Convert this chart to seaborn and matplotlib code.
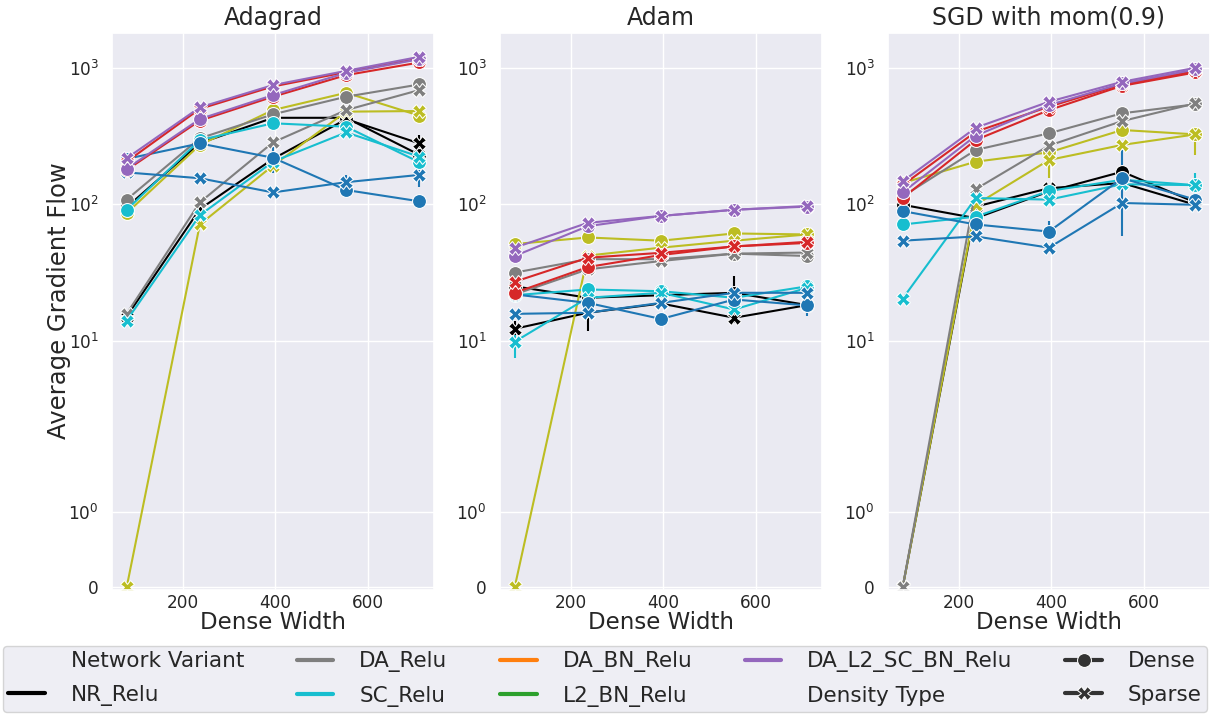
import numpy as np
import pandas as pd
import matplotlib
matplotlib.use("Agg")
import matplotlib.pyplot as plt
import seaborn as sns

# ---------------- data ----------------
WIDTHS = [79, 237, 395, 553, 711]
OPTIMIZERS = ["Adagrad", "Adam", "SGD with mom(0.9)"]

# drawing order (later on top)
VARIANT_ORDER = ["NR_Relu", "DA_SC_Relu", "DA_Relu", "SC_Relu", "L2_Relu",
                 "DA_BN_Relu", "L2_BN_Relu", "DA_SC_BN_Relu", "DA_L2_SC_BN_Relu"]
PALETTE = {
    "NR_Relu": "black", "DA_Relu": "tab:gray", "SC_Relu": "tab:cyan",
    "DA_BN_Relu": "tab:orange", "L2_BN_Relu": "tab:green", "DA_L2_SC_BN_Relu": "tab:purple",
    "DA_SC_Relu": "tab:olive", "L2_Relu": "tab:blue", "DA_SC_BN_Relu": "tab:red",
}

ADAGRAD_DENSE = {
    "NR_Relu":          [95, 280, 430, 430, 230],
    "DA_Relu":          [108, 304, 456, 614, 755],
    "DA_SC_Relu":       [86, 272, 490, 656, 446],
    "SC_Relu":          [91, 295, 392, 370, 203],
    "L2_Relu":          [215, 279, 219, 127, 105],
    "DA_SC_BN_Relu":    [178, 410, 614, 884, 1094],
    "DA_L2_SC_BN_Relu": [182, 421, 631, 919, 1157],
}
ADAGRAD_SPARSE = {
    "NR_Relu":          [15, 92, 215, 420, 279],
    "DA_Relu":          [15.7, 103, 284, 490, 687],
    "DA_SC_Relu":       [0, 71, 192, 477, 482],
    "SC_Relu":          [14, 83, 205, 336, 223],
    "L2_Relu":          [171, 155, 122, 145, 164],
    "DA_SC_BN_Relu":    [205, 500, 730, 930, 1170],
    "DA_L2_SC_BN_Relu": [217, 513, 747, 950, 1204],
}
ADAM_DENSE = {
    "NR_Relu":          [25, 20.6, 21.5, 22.4, 18.2],
    "DA_Relu":          [31.5, 39.5, 39.5, 43.4, 41.7],
    "DA_SC_Relu":       [51, 57, 54, 61, 60],
    "SC_Relu":          [21.5, 23.7, 23, 20.6, 25],
    "L2_Relu":          [21.8, 18.9, 14.4, 20, 18.1],
    "DA_SC_BN_Relu":    [22.4, 34.6, 42.4, 49, 52],
    "DA_L2_SC_BN_Relu": [41.7, 69, 82, 91, 96],
}
ADAM_SPARSE = {
    "NR_Relu":          [12.2, 16, 18.7, 14.7, 18.2],
    "DA_Relu":          [21.8, 33.3, 38.3, 43.4, 44.2],
    "DA_SC_Relu":       [0, 42, 48, 54, 60],
    "SC_Relu":          [9.8, 20.6, 22.4, 16.9, 24.4],
    "L2_Relu":          [15.7, 16, 18.9, 22.4, 22.4],
    "DA_SC_BN_Relu":    [27, 40.5, 44, 49, 53],
    "DA_L2_SC_BN_Relu": [48, 73, 82, 91, 97],
}
SGD_DENSE = {
    "NR_Relu":          [99, 79, 124, 173, 103],
    "DA_Relu":          [114, 250, 331, 464, 540],
    "DA_SC_Relu":       [143, 205, 240, 350, 325],
    "SC_Relu":          [71, 81, 125, 151, 138],
    "L2_Relu":          [89, 71, 63, 155, 108],
    "DA_SC_BN_Relu":    [111, 296, 490, 738, 925],
    "DA_L2_SC_BN_Relu": [122, 318, 533, 768, 972],
}
SGD_SPARSE = {
    "NR_Relu":          [0, 96, 131, 143, 99],
    "DA_Relu":          [0, 129, 269, 407, 548],
    "DA_SC_Relu":       [0, 99, 211, 272, 325],
    "SC_Relu":          [20.3, 111, 108, 140, 138],
    "L2_Relu":          [54, 58, 48, 102, 99],
    "DA_SC_BN_Relu":    [138, 340, 519, 755, 946],
    "DA_L2_SC_BN_Relu": [147, 364, 564, 790, 1000],
}

# error bars: (optimizer, variant, width index, low, high)
ERRBARS = [
    ("Adagrad", "L2_Relu", 2, 170, 262),
    ("Adagrad", "L2_Relu", 3, 112, 165),
    ("Adagrad", "L2_Relu", 4, 134, 178),
    ("Adagrad", "NR_Relu", 4, 250, 321),
    ("Adam", "SC_Relu", 0, 7.5, 11.1),
    ("Adam", "NR_Relu", 0, 11, 14),
    ("Adam", "NR_Relu", 1, 11.7, 16.4),
    ("Adam", "NR_Relu", 3, 13.5, 29.7),
    ("Adam", "L2_Relu", 4, 15.1, 18.1),
    ("SGD with mom(0.9)", "L2_Relu", 3, 58, 250),
    ("SGD with mom(0.9)", "DA_SC_Relu", 4, 230, 370),
    ("SGD with mom(0.9)", "DA_SC_Relu", 2, 155, 230),
    ("SGD with mom(0.9)", "SC_Relu", 4, 117, 169),
    ("SGD with mom(0.9)", "L2_Relu", 2, 56, 75),
]

TABLES = {
    "Adagrad": (ADAGRAD_DENSE, ADAGRAD_SPARSE),
    "Adam": (ADAM_DENSE, ADAM_SPARSE),
    "SGD with mom(0.9)": (SGD_DENSE, SGD_SPARSE),
}

rows = []
for opt, (dense, sparse) in TABLES.items():
    for dtype, tab in (("Dense", dense), ("Sparse", sparse)):
        for var, vals in tab.items():
            for w, v in zip(WIDTHS, vals):
                rows.append({"Optimizer": opt, "Network Variant": var,
                             "Density Type": dtype, "Dense Width": w,
                             "Average Gradient Flow": v})
df = pd.DataFrame(rows)

# ---------------- plot ----------------
sns.set_theme(style="darkgrid")
plt.rcParams["font.family"] = ["DejaVu Sans"]

fig = plt.figure(figsize=(12.1, 7.15), dpi=100)
W, H = 1210, 715
lefts = [112, 500, 888]
axes = []
for l in lefts:
    ax = fig.add_axes([l / W, (H - 590) / H, 322 / W, (590 - 33) / H])
    axes.append(ax)

handles_map = {}
for i, (ax, opt) in enumerate(zip(axes, OPTIMIZERS)):
    sub = df[df["Optimizer"] == opt]
    sns.lineplot(data=sub, x="Dense Width", y="Average Gradient Flow",
                 hue="Network Variant", style="Density Type",
                 hue_order=VARIANT_ORDER, style_order=["Dense", "Sparse"],
                 palette=PALETTE, markers={"Dense": "o", "Sparse": "X"},
                 dashes=False, errorbar=None, markersize=10, linewidth=1.5,
                 legend=(i == 0), ax=ax)
    for (o, var, idx, lo, hi) in ERRBARS:
        if o == opt:
            ax.vlines(WIDTHS[idx], lo, hi, color=PALETTE[var], linewidth=1.5, zorder=1.9)
    ax.set_yscale("symlog", linthresh=2, linscale=1)
    ax.set_ylim(-0.034, 1800)
    ax.set_yticks([0, 1, 10, 100, 1000])
    ax.minorticks_off()
    ax.set_xticks([200, 400, 600])
    ax.tick_params(axis="both", labelsize=12.2)
    ax.tick_params(axis="x", pad=-3)
    ax.set_title(opt, fontsize=17)
    ax.set_xlabel("Dense Width", fontsize=16.5, labelpad=-1)
    if i == 0:
        ax.set_ylabel("Average Gradient Flow", fontsize=17.5)
        ax.yaxis.set_label_coords(-0.127, 0.52)
        h, lab = ax.get_legend_handles_labels()
        for hh, ll in zip(h, lab):
            handles_map[ll] = hh
        if ax.get_legend() is not None:
            ax.get_legend().remove()
    else:
        ax.set_ylabel("")

order = ["Network Variant", "NR_Relu", "DA_Relu", "SC_Relu", "DA_BN_Relu", "L2_BN_Relu",
         "DA_L2_SC_BN_Relu", "Density Type", "Dense", "Sparse"]
TITLES = {"Network Variant", "Density Type"}
leg_h = [handles_map[k] for k in order]
leg = fig.legend(leg_h, order, loc="lower left",
                 bbox_to_anchor=(3 / W, 3 / H, 1204 / W, 0.1), mode="expand", ncol=5,
                 fontsize=15.5, handlelength=1.7, handletextpad=1.2, columnspacing=2.0,
                 borderpad=0.25, labelspacing=0.62, frameon=True, borderaxespad=0)
for lh, txt in zip(leg.legend_handles, leg.get_texts()):
    if txt.get_text() in TITLES:
        lh.set_visible(False)
    elif hasattr(lh, "set_linewidth"):
        lh.set_linewidth(3)

fig.savefig("out.png", dpi=100)
